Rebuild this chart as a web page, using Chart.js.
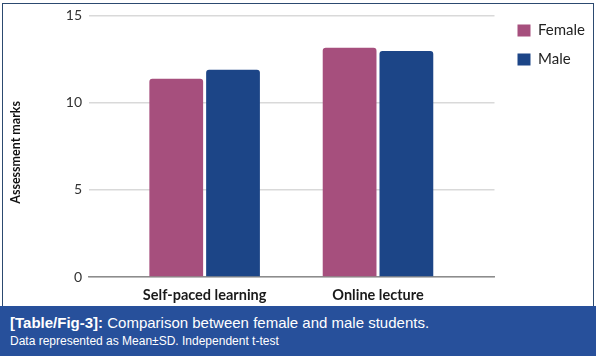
<!DOCTYPE html>
<html lang="en">
<head>
    <meta charset="UTF-8" />
    <title>Assessment marks by gender</title>
    <script src="https://cdn.jsdelivr.net/npm/chart.js"></script>
    <style>
        body { margin: 0; background: #fff; width: 598px; height: 363px; position: relative; overflow: hidden; }
        #frame { position: absolute; left: 2px; top: 3px; width: 590px; height: 304px; border: 1.5px solid #2c4a70; border-bottom: none; }
        #wrap { position: absolute; left: 0; top: 0; width: 598px; height: 306px; }
        #caption { position: absolute; left: 0; top: 306px; width: 596px; height: 50px; background: #27509b; color: #fff;
                   font-family: "Liberation Sans", Arial, sans-serif; box-sizing: border-box; padding: 8px 0 0 10px; }
        #caption .l1 { font-size: 15px; line-height: 18px; }
        #caption .l2 { font-size: 12px; line-height: 16px; margin-top: 1px; }
    </style>
</head>
<body>
    <div id="frame"></div>
    <div id="wrap"><canvas id="chart"></canvas></div>
    <div id="caption">
        <div class="l1"><b>[Table/Fig-3]:</b> Comparison between female and male students.</div>
        <div class="l2">Data represented as Mean±SD. Independent t-test</div>
    </div>

    <script>
        const categories = ['Self-paced learning', 'Online lecture'];
        const female = [11.37, 13.14];
        const male = [11.89, 12.96];
        const yTicks = [0, 5, 10, 15];

        // nudge the legend a little further right, as in the original
        const legendShift = {
            id: 'legendShift',
            afterLayout(chart) {
                if (chart.legend) { chart.legend.left += 9; chart.legend.right += 9; }
            }
        };

        // x is linear so the groups can sit inward from the grid ends (like the sheet export)
        const toPoints = arr => arr.map((v, i) => ({ x: i, y: v }));

        const ctx = document.getElementById('chart').getContext('2d');
        new Chart(ctx, {
            type: 'bar',
            data: {
                datasets: [
                    { label: 'Female', data: toPoints(female), backgroundColor: '#a64f7d', borderRadius: 3, borderSkipped: 'bottom' },
                    { label: 'Male', data: toPoints(male), backgroundColor: '#1c4587', borderRadius: 3, borderSkipped: 'bottom' }
                ]
            },
            plugins: [legendShift],
            options: {
                responsive: true,
                maintainAspectRatio: false,
                animation: false,
                layout: { padding: { top: 9, right: 12, left: 0, bottom: 0 } },
                datasets: { bar: { categoryPercentage: 0.655, barPercentage: 0.947 } },
                plugins: {
                    legend: {
                        position: 'right',
                        align: 'start',
                        labels: {
                            boxWidth: 13, boxHeight: 12, padding: 14,
                            color: '#222',
                            font: { family: 'Lato', size: 15 }
                        }
                    },
                    tooltip: { enabled: false }
                },
                scales: {
                    x: {
                        type: 'linear',
                        offset: false,
                        min: -0.667, max: 1.672,
                        afterBuildTicks: function(scale) { scale.ticks = categories.map((c, i) => ({ value: i })); },
                        grid: { display: false, drawTicks: false, offset: false },
                        border: { display: true, color: '#8c8c8c', width: 1.5 },
                        ticks: {
                            color: '#1a1a1a', padding: 10, maxRotation: 0, autoSkip: false,
                            font: { family: 'Lato', size: 14.5, weight: 'bold' },
                            callback: v => categories[v]
                        },
                        afterFit: function(scale) { scale.height = 29; }
                    },
                    y: {
                        min: 0, max: 15,
                        afterBuildTicks: function(scale) { scale.ticks = yTicks.map(v => ({ value: v })); },
                        grid: { color: '#d9d9d9', lineWidth: 1.5, drawTicks: false },
                        border: { display: false },
                        ticks: { color: '#333', padding: 7, font: { family: 'Lato', size: 14 } },
                        title: {
                            display: true, text: 'Assessment marks\u2003 ', color: '#111',
                            padding: { top: 8, bottom: 0 },
                            font: { family: 'Lato', size: 12.5, weight: 'bold' }
                        },
                        afterFit: function(scale) { scale.width = 89; }
                    }
                }
            }
        });
    </script>
</body>
</html>
